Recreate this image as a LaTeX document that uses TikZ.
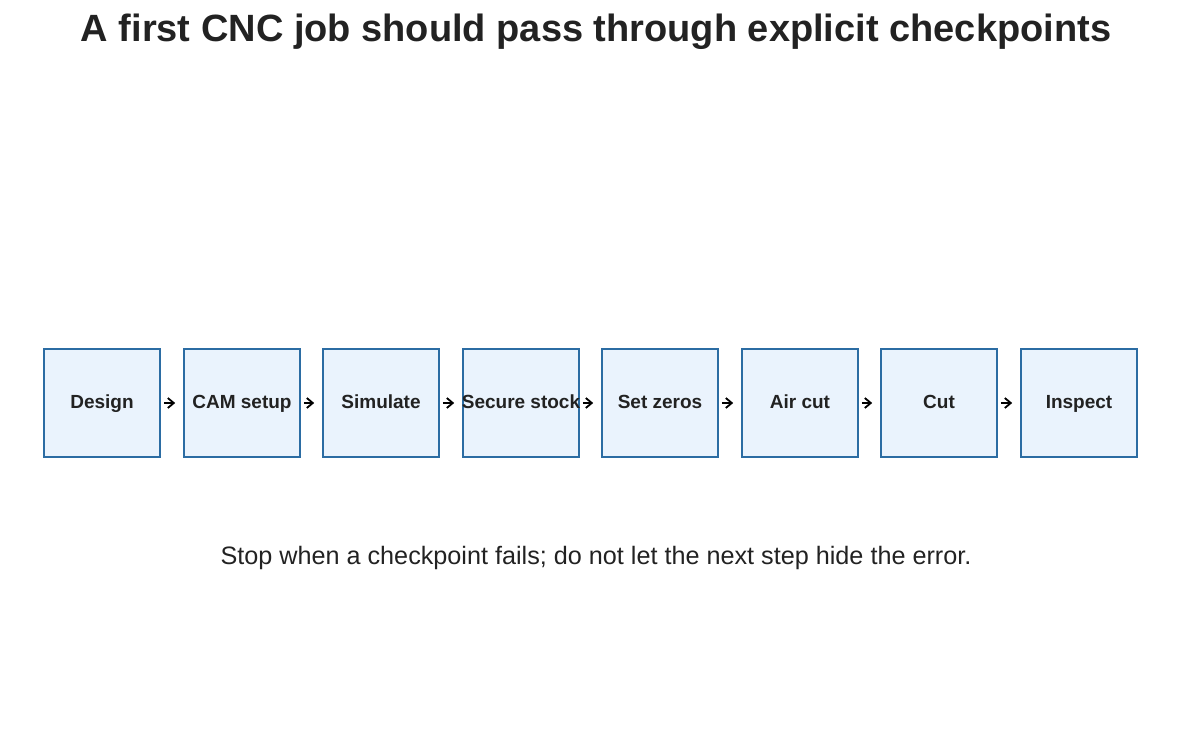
\documentclass[tikz,border=0pt]{standalone}
\usepackage{fontspec}
\setmainfont{Liberation Sans}
\usepackage{tikz}
\usetikzlibrary{positioning}
\usetikzlibrary{arrows.meta}
\definecolor{boxfill}{HTML}{EAF3FD}
\definecolor{boxline}{HTML}{2B6CA3}
\definecolor{inkgray}{HTML}{222222}

\begin{document}
\begin{tikzpicture}[x=1pt,y=-1pt,
						stepbox/.style={rectangle, draw=boxline, line width=1.6pt, fill=boxfill, inner sep=0pt, minimum width=116pt, minimum height=108pt, text height=14pt, text depth=4pt, text=inkgray, font=\bfseries\fontsize{19}{21}\selectfont},
						flowarrow/.style={line width=1.8pt, black, -{Straight Barb[length=6pt,width=10pt]}, shorten <=3pt, shorten >=8pt},
						]
						\useasboundingbox (0,0) rectangle (1192,741);
						%Nodes
						\node[anchor=base, text=inkgray, font=\bfseries\fontsize{38}{42}\selectfont]   (title)   at (596,42)   {A first CNC job should pass through explicit checkpoints};
						\node[stepbox]      (design)   at  (102,403)     {Design};
						\node[stepbox]      (cam)      at  (242,403)     {CAM setup};
						\node[stepbox]      (sim)      at  (381,403)     {Simulate};
						\node[stepbox]      (stock)    at  (521,403)     {\makebox[0pt]{Secure stock}};
						\node[stepbox]      (zeros)    at  (660,403)     {Set zeros};
						\node[stepbox]      (aircut)   at  (800,403)     {Air cut};
						\node[stepbox]      (cut)      at  (939,403)     {Cut};
						\node[stepbox]      (inspect)  at  (1079,403)    {Inspect};
						\node[anchor=base, text=inkgray, font=\fontsize{25.2}{28}\selectfont]   (note)   at (596,564)   {Stop when a checkpoint fails; do not let the next step hide the error.};
						
						%Arrows
						\draw[flowarrow] (design) -- (cam);
						\draw[flowarrow] (cam) -- (sim);
						\draw[flowarrow] (sim) -- (stock);
						\draw[flowarrow] (stock) -- (zeros);
						\draw[flowarrow] (zeros) -- (aircut);
						\draw[flowarrow] (aircut) -- (cut);
						\draw[flowarrow] (cut) -- (inspect);
					\end{tikzpicture}
\end{document}
